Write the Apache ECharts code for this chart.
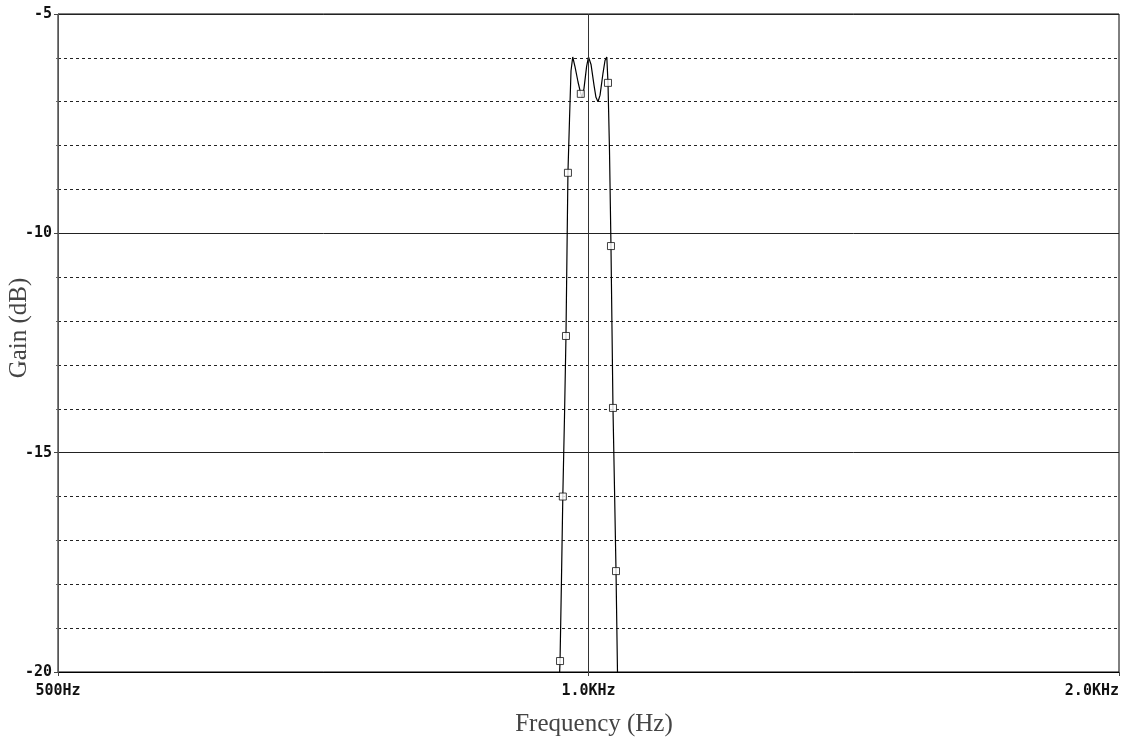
<!DOCTYPE html>
<html>
<head>
<meta charset="utf-8">
<script src="https://cdn.jsdelivr.net/npm/echarts@6/dist/echarts.min.js"></script>
<style>
html,body{margin:0;padding:0;background:#fff;}
#chart{width:1126px;height:750px;}
</style>
</head>
<body>
<div id="chart"></div>
<script>
// Frequency (Hz) and gain (dB) of the trace
const freqHz = [962.2, 963.5, 965.3, 967.0, 969.1, 971.0, 972.3, 973.5, 975.5, 977.4, 979.6, 982.5, 986.4, 990.0, 991.6, 994.1, 997.5, 1000.0, 1003.3, 1007.2, 1009.8, 1012.5, 1015.2, 1019.2, 1021.8, 1024.2, 1025.8, 1027.8, 1029.8, 1031.2, 1032.5, 1034.6, 1036.6, 1038.6, 1039.5];
const gainDb = [-20.4, -19.75, -17.9, -16.0, -14.2, -12.34, -10.4, -8.62, -7.4, -6.3, -5.98, -6.2, -6.55, -6.82, -6.9, -6.7, -6.2, -5.98, -6.15, -6.62, -6.9, -7.0, -6.85, -6.34, -6.06, -5.98, -6.57, -8.1, -10.29, -12.2, -13.98, -15.85, -17.70, -20.0, -20.6];
// Trace markers
const markerHz = [963.5, 967.0, 971.0, 973.5, 990.0, 1025.8, 1029.8, 1032.5, 1036.6];
const markerDb = [-19.75, -16.0, -12.34, -8.62, -6.82, -6.57, -10.29, -13.98, -17.70];
// Axis ticks
const xTickValues = [500, 1000, 2000];
const xTickLabels = ['500Hz', '1.0KHz', '2.0KHz'];
const yTickValues = [-20, -15, -10, -5];

const lineData = freqHz.map((f, i) => [f, gainDb[i]]);
const markData = markerHz.map((f, i) => [f, markerDb[i]]);

const tickFont = {fontFamily: 'DejaVu Sans Mono', fontWeight: 'bold', fontSize: 15, color: '#111'};

const chart = echarts.init(document.getElementById('chart'), null, {renderer: 'canvas'});
chart.setOption({
  backgroundColor: '#fff',
  animation: false,
  grid: {left: 58, right: 7, top: 14, bottom: 78, show: true, borderColor: '#000', borderWidth: 1, containLabel: false, outerBoundsMode: 'none'},
  xAxis: {
    type: 'log',
    logBase: 10,
    min: 500,
    max: 2000,
    name: 'Frequency (Hz)',
    nameLocation: 'middle',
    nameGap: 40,
    nameMoveOverlap: false,
    nameTextStyle: {fontFamily: 'Liberation Serif', fontSize: 25, color: '#444', padding: [0, 0, 0, 11]},
    axisLine: {show: true, lineStyle: {color: '#000', width: 1}},
    axisTick: {show: true, length: 4, lineStyle: {color: '#444'}, customValues: xTickValues},
    axisLabel: {
      show: true, margin: 12, customValues: xTickValues,
      alignMaxLabel: 'right',
      formatter: function (v) {
        for (let i = 0; i < xTickValues.length; i++) {
          if (Math.abs(v - xTickValues[i]) < 1e-6 * xTickValues[i]) return xTickLabels[i];
        }
        return '';
      },
      ...tickFont
    },
    splitLine: {show: false},
    minorTick: {show: false},
    minorSplitLine: {show: false}
  },
  yAxis: {
    type: 'value',
    min: -20,
    max: -5,
    interval: 5,
    name: 'Gain (dB)',
    nameLocation: 'middle',
    nameRotate: 90,
    nameGap: 26,
    nameMoveOverlap: false,
    nameTextStyle: {fontFamily: 'Liberation Serif', fontSize: 25, color: '#444', padding: [0, 0, 0, 30]},
    axisLine: {show: true, lineStyle: {color: '#555', width: 1}},
    axisTick: {show: true, length: 4, lineStyle: {color: '#444'}},
    axisLabel: {
      margin: 6,
      formatter: function (v) { return yTickValues.indexOf(v) >= 0 ? String(v) : ''; },
      ...tickFont
    },
    splitLine: {show: true, lineStyle: {color: '#222', width: 1, type: 'solid'}},
    minorTick: {show: true, splitNumber: 5, length: 2, lineStyle: {color: '#666'}},
    minorSplitLine: {show: true, lineStyle: {color: '#222', width: 1, type: [3, 3]}}
  },
  series: [
    {
      type: 'line',
      data: lineData,
      showSymbol: false,
      symbol: 'none',
      clip: true,
      lineStyle: {color: '#000', width: 1.2},
      silent: true,
      markLine: {
        silent: true,
        symbol: 'none',
        label: {show: false},
        lineStyle: {color: '#333', width: 1, type: 'solid'},
        data: [{xAxis: 1000}]
      }
    },
    {
      type: 'scatter',
      data: markData,
      symbol: 'rect',
      symbolSize: 7,
      itemStyle: {color: '#fff', borderColor: '#111', borderWidth: 1},
      silent: true,
      z: 5
    }
  ]
});
</script>
</body>
</html>
